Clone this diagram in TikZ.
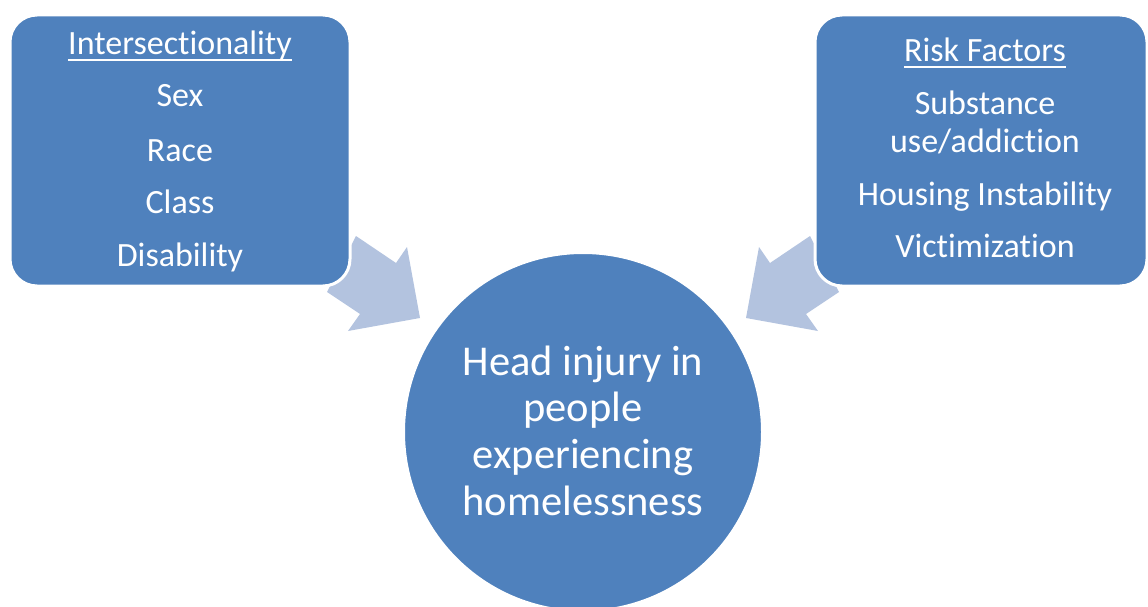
\documentclass[tikz,border=0pt]{standalone}
\usepackage{fontspec}
\setmainfont{Carlito}[Ligatures=NoCommon]
\definecolor{boxblue}{HTML}{4F81BD}
\definecolor{arrowblue}{HTML}{B3C3DF}
\begin{document}
\begin{tikzpicture}[x=1pt,y=-1pt,
  boxshape/.style={rectangle, fill=boxblue, draw=white, line width=3pt, rounded corners=27pt, inner sep=0pt},
  hubshape/.style={circle, fill=boxblue, draw=white, line width=2pt, inner sep=0pt},
  lbl/.style={text=white, font=\fontsize{34}{40}\selectfont, anchor=base, inner sep=0pt},
  hublbl/.style={text=white, font=\fontsize{42.5}{50}\selectfont, anchor=base, inner sep=0pt},
  blockarrow/.style={fill=arrowblue},
  uline/.style={draw=white, line width=1.5pt}]
\useasboundingbox (0,0) rectangle (1148,607);
% block arrows
\fill[blockarrow] (356,236) -- (396,263) -- (407,247) -- (420,318) -- (348,331) -- (360,314) -- (327,292) -- cycle;
\fill[blockarrow] (810,236) -- (770,263) -- (759,247) -- (746,318) -- (818,331) -- (806,314) -- (839,292) -- cycle;
% boxes
\node[boxshape, minimum width=340pt, minimum height=271pt] (left) at (180,150.5) {};
\node[boxshape, minimum width=332pt, minimum height=271pt] (right) at (981,150.5) {};
\node[hubshape, minimum size=358pt] (hub) at (583,432) {};
% left texts
\node[lbl] (l1) at (180,55) {Intersectionality};
\node[lbl] (l2) at (180,107) {Sex};
\node[lbl] (l3) at (180,161) {Race};
\node[lbl] (l4) at (180,213) {Class};
\node[lbl] (l5) at (180,266) {Disability};
\draw[uline] ([yshift=-5pt]l1.base west) -- ([yshift=-5pt]l1.base east);
% right texts
\node[lbl] (r1) at (985,62) {Risk Factors};
\node[lbl] (r2) at (985,114) {Substance};
\node[lbl] (r3) at (985,152) {use/addiction};
\node[lbl] (r4) at (985,205) {Housing Instability};
\node[lbl] (r5) at (985,257) {Victimization};
\draw[uline] ([yshift=-5pt]r1.base west) -- ([yshift=-5pt]r1.base east);
% hub texts
\node[hublbl] (h1) at (583,375) {Head injury in};
\node[hublbl] (h2) at (583,421) {people};
\node[hublbl] (h3) at (583,468) {experiencing};
\node[hublbl] (h4) at (583,515) {homelessness};
\end{tikzpicture}
\end{document}
